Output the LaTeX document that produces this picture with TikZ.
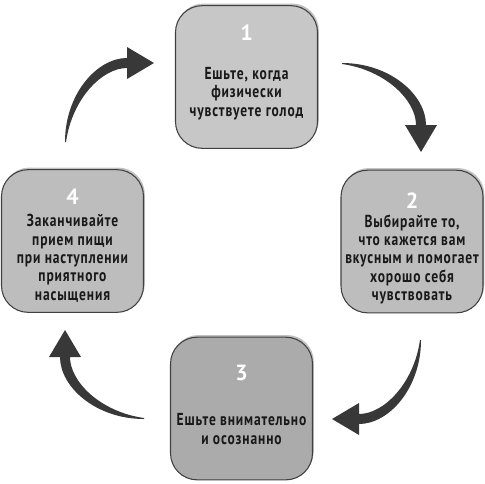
\documentclass[tikz,border=0pt]{standalone}
\usepackage{fontspec}
\setmainfont{PT Sans}[FakeStretch=0.78, LetterSpace=5]
\newfontfamily\numfont{PT Sans}
\usetikzlibrary{positioning,calc,shadows}

\colorlet{arrowgray}{black!78}

\tikzset{
  stepbox/.style = {
    rounded corners=20pt, minimum width=106.5pt, minimum height=107pt,
    draw=black!75, line width=0.8pt,
    drop shadow={shadow xshift=1pt, shadow yshift=1.6pt, fill=black!35, opacity=0.7},
  },
  steptext/.style = {
    align=center, text=black!90, inner sep=0pt,
    font=\bfseries\fontsize{13}{13.7}\selectfont,
  },
  stepnum/.style = {
    text=white, inner sep=0pt,
    font=\numfont\bfseries\fontsize{16.5}{16.5}\selectfont,
  },
  cyclearrow/.pic = {
    \fill[arrowgray] (99,-178) .. controls (147,-178) and (183,-146) .. (183,-116)
      -- (194,-116) -- (178,-89) -- (162,-116) -- (173,-116)
      .. controls (173,-141) and (142,-171) .. (99,-177) -- cycle;
  },
}

\begin{document}
\begin{tikzpicture}[x=0.75pt, y=-0.75pt]
  \useasboundingbox (0,0) rectangle (485,483);

  % boxes
  \node[stepbox, fill=black!22] (s1) at (246.5,77) {};
  \node[stepbox, fill=black!26] (s2) at (412,241.5) {};
  \node[stepbox, fill=black!33] (s3) at (241.5,408.5) {};
  \node[stepbox, fill=black!26] (s4) at (72.5,241) {};

  \node[stepnum] (n1) at ([yshift=33pt]s1.center) {1};
  \node[stepnum] (n2) at ([yshift=31pt]s2.center) {2};
  \node[stepnum] (n3) at ([yshift=26.6pt]s3.center) {3};
  \node[stepnum] (n4) at ([yshift=33pt]s4.center) {4};

  \node[steptext] (t1) at ([yshift=-12.4pt]s1.center)
    {Ешьте, когда\\физически\\чувствуете голод};
  \node[steptext] (t2) at ([yshift=-13.4pt]s2.center)
    {Выбирайте то,\\что кажется вам\\вкусным и помогает\\хорошо себя\\чувствовать};
  \node[steptext] (t3) at ([yshift=-15.4pt]s3.center)
    {Ешьте внимательно\\и осознанно};
  \node[steptext] (t4) at ([yshift=-13pt]s4.center)
    {Заканчивайте\\прием пищи\\при наступлении\\приятного\\насыщения};

  % arrows round the centre
  \coordinate (c) at (243,241);
  \pic at (c) {cyclearrow};
  \pic[rotate=90] at (c) {cyclearrow};
  \pic[rotate=180] at (c) {cyclearrow};
  \pic[rotate=270] at (c) {cyclearrow};
\end{tikzpicture}
\end{document}
